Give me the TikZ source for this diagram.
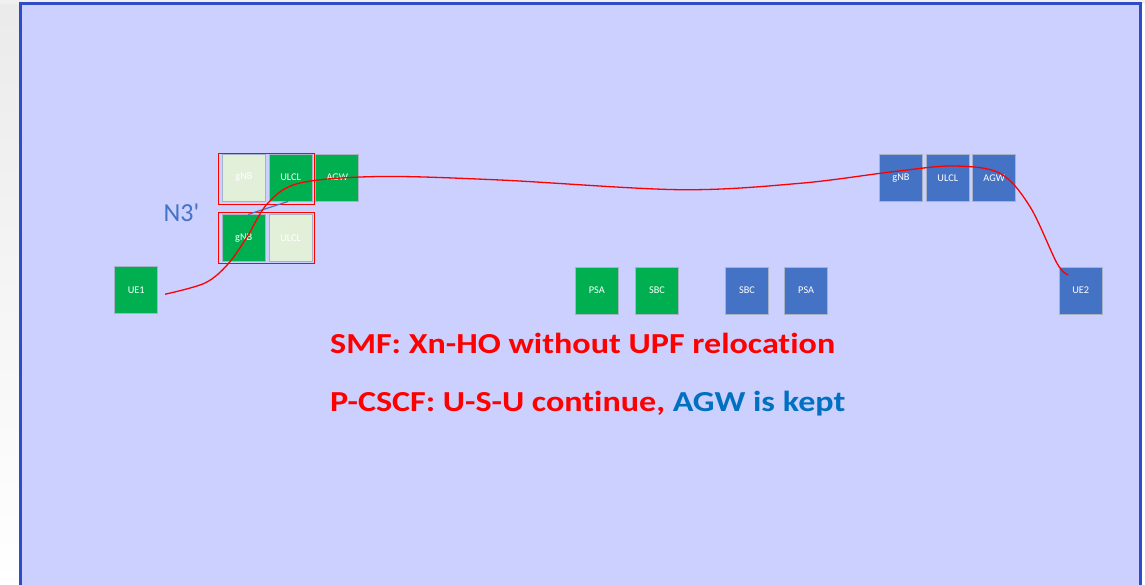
\documentclass[tikz,border=0pt]{standalone}
\usepackage{fontspec}
\setmainfont{Carlito}[Ligatures=NoCommon]
\usetikzlibrary{calc}
\definecolor{framefill}{HTML}{CBD0FF}
\definecolor{frameline}{HTML}{2F4CC6}
\definecolor{nfgreen}{HTML}{00B050}
\definecolor{nflight}{HTML}{E2F0D9}
\definecolor{nfblue}{HTML}{4472C4}
\definecolor{nfedge}{HTML}{A8B2C6}
\definecolor{keptblue}{HTML}{0070C0}
\newcommand{\widecaption}[1]{\scalebox{1.175}[1]{#1}}
\tikzset{
  nf/.style={draw=nfedge, line width=0.8pt, minimum width=43pt, minimum height=47pt,
    inner sep=0pt, text=white, font=\fontsize{10.3}{11}\selectfont},
  nfg/.style={nf, fill=nfgreen},
  nfl/.style={nf, fill=nflight},
  nfb/.style={nf, fill=nfblue},
  groupbox/.style={draw=red, line width=1.1pt},
  pathline/.style={draw=red, line width=1.3pt},
  headline/.style={anchor=base west, inner sep=0pt, text=red,
    font=\fontsize{29}{34}\selectfont\bfseries},
}
\begin{document}
\begin{tikzpicture}[x=1pt, y=-1pt]
\useasboundingbox (0,0) rectangle (1145,585);
% page and slide frame
\fill[white] (0,0) rectangle (1145,585);
\shade[top color=black!8, bottom color=white] (0,0) rectangle (20,585);
\fill[black!6] (0,0) rectangle (1145,4);
\draw[frameline, line width=3pt, fill=framefill] (20,4) rectangle (1140,600);

% source side: gNB / ULCL / AGW before and after handover
\node[nfl] (gNBa)  at (244,177.5) {gNB};
\node[nfg] (ULCLa) at (290.7,177.5) {ULCL};
\node[nfg] (AGWa)  at (337.3,177.5) {AGW};
\node[nfg] (gNBb)  at (243.7,238.3) {gNB};
\node[nfl] (ULCLb) at (290.7,238.3) {ULCL};
\node[nfg] (UE1)   at (136.2,290.2) {UE1};

\draw[groupbox] (218.3,153.3) rectangle (314.3,204.3);
\draw[groupbox] (218.3,212.7) rectangle (314.3,263.3);

\draw[nfblue, line width=1.2pt] ([xshift=4.5pt]gNBb.north) -- ([xshift=-2.5pt]ULCLa.south);
\node[text=nfblue, font=\fontsize{26}{30}\selectfont] (n3) at (181.5,213) {N3\textquotesingle};

% anchor functions in the middle
\node[nfg] (PSA1) at (596.8,290.5) {PSA};
\node[nfg] (SBC1) at (657.0,290.5) {SBC};
\node[nfb] (SBC2) at (747.0,290.5) {SBC};
\node[nfb] (PSA2) at (806.2,290.5) {PSA};

% peer side
\node[nfb] (gNBr)  at (901.0,178.3) {gNB};
\node[nfb] (ULCLr) at (947.8,178.3) {ULCL};
\node[nfb] (AGWr)  at (994.2,178.3) {AGW};
\node[nfb] (UE2)   at (1080.7,290.5) {UE2};

% user-plane path between the two UEs
\coordinate (pA) at ($(UE1.east)+(7,4)$);
\coordinate (pB) at ($(UE2.center)+(-12.5,-15.5)$);
\draw[pathline] plot[smooth, tension=0.55] coordinates {
  (pA) (205,283) (228,264) (247,237) (268,203) (300,183) (380,176.5)
  (500,180) (680,189.7) (800,183.3) (893,171.7) (953,166) (1000,173.3)
  (1030,206.7) (1057,263.3) (pB)};

% captions
\node[headline] (smf) at (330,353) {\widecaption{SMF: Xn-HO without UPF relocation}};
\node[headline] (pcscf) at (330,411.5) {\widecaption{P-CSCF: U-S-U continue, \textcolor{keptblue}{AGW is kept}}};
\end{tikzpicture}
\end{document}
